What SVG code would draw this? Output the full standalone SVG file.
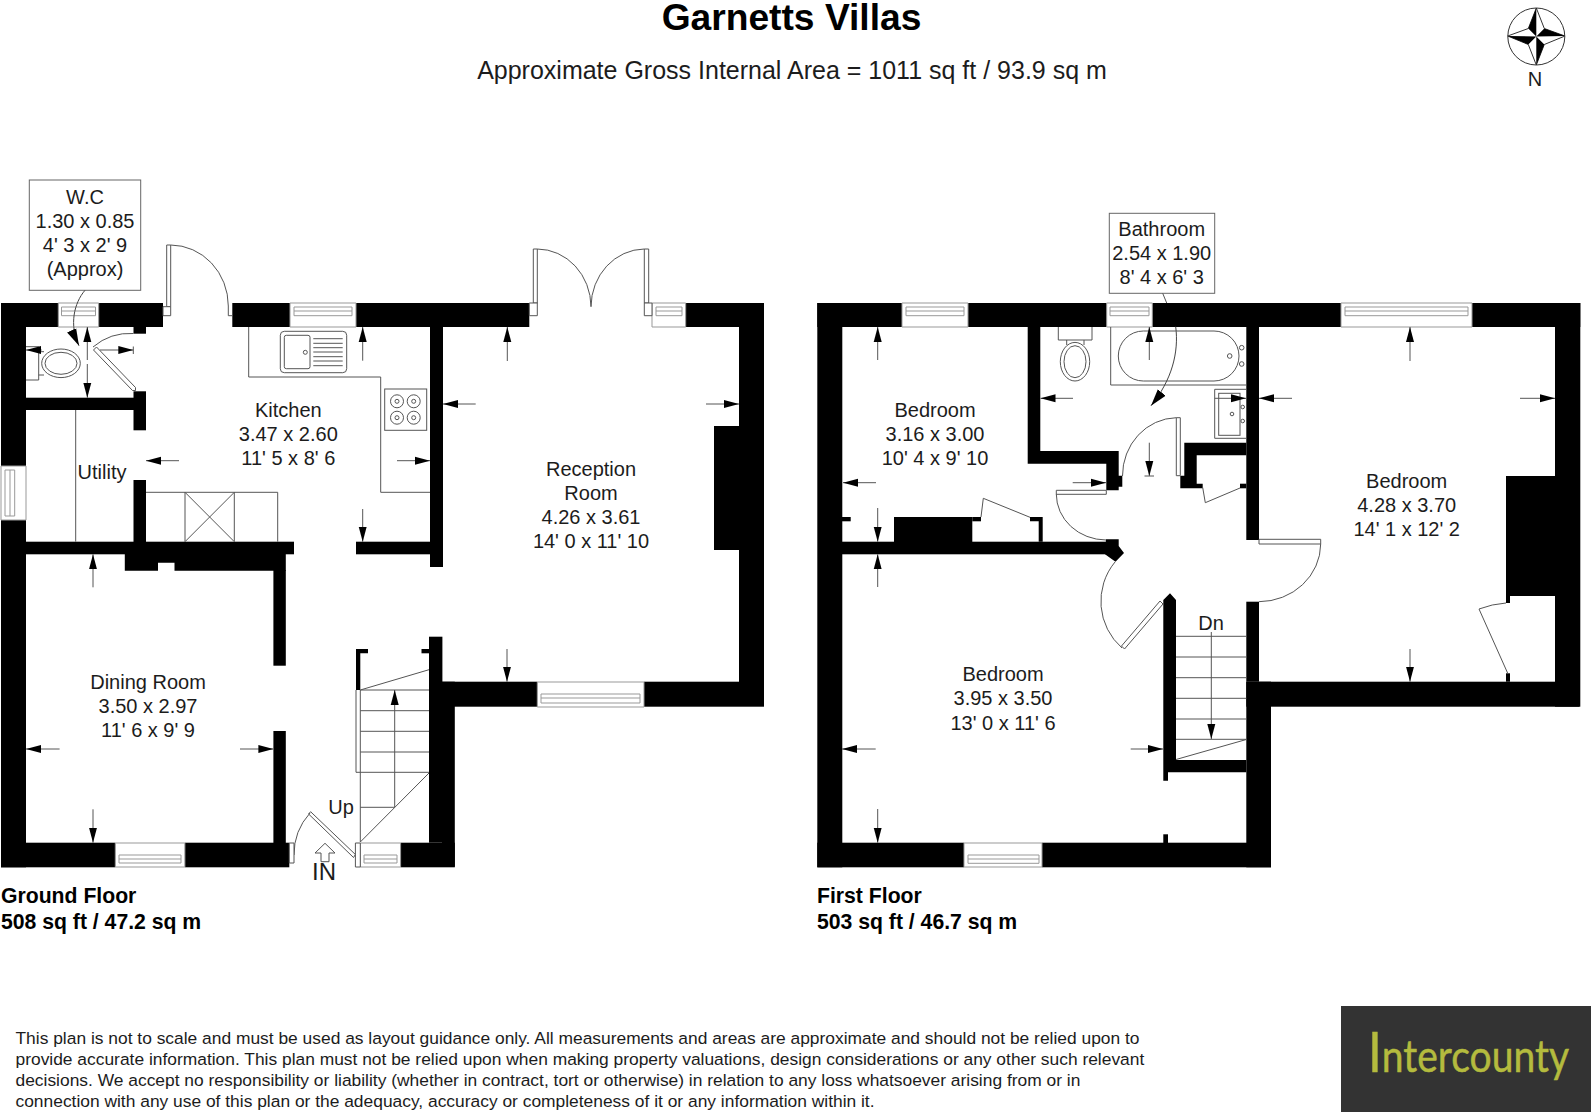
<svg xmlns="http://www.w3.org/2000/svg" width="1591" height="1120" viewBox="0 0 1591 1120">
<style>
text{font-family:"Liberation Sans",Arial,sans-serif;font-size:20px;fill:#1c1c1c;text-anchor:middle}
.b{font-weight:bold;fill:#000;text-anchor:start;font-size:21.2px}
.s{text-anchor:start;font-size:17.4px}
.w{fill:#000;stroke:none}
.t{fill:none;stroke:#555;stroke-width:1}
.lt{fill:none;stroke:#999;stroke-width:1}
.d{fill:#fff;stroke:#555;stroke-width:1}
.a{fill:none;stroke:#555;stroke-width:1;marker-end:url(#ah)}
.l{fill:none;stroke:#444;stroke-width:1;marker-end:url(#lh)}
.box{fill:#fff;stroke:#666;stroke-width:1}
</style>
<defs>
<marker id="ah" markerUnits="userSpaceOnUse" markerWidth="16" markerHeight="10" refX="15" refY="5" orient="auto"><path d="M0,1 L15,5 L0,9 Z" fill="#000"/></marker>
<marker id="lh" markerUnits="userSpaceOnUse" markerWidth="18" markerHeight="12" refX="17" refY="6" orient="auto"><path d="M0,1 L17,6 L0,11 Z" fill="#000"/></marker>
</defs>
<rect width="1591" height="1120" fill="#fff"/>

<g id="title">
<text x="791.5" y="30" style="font-weight:bold;font-size:37.2px;fill:#000">Garnetts Villas</text>
<text x="792" y="79" style="font-size:25px">Approximate Gross Internal Area = 1011 sq ft / 93.9 sq m</text>
</g>

<g id="compass">
<circle cx="1536.3" cy="36.5" r="28.5" fill="#fff" stroke="#333"/>
<path d="M1536.3 8L1544.3 28.5L1565 36L1544.3 44.5L1536.3 65L1528.3 44.5L1507.7 36L1528.3 28.5Z" fill="#fff" stroke="#333"/>
<path d="M1536.3 8L1528.3 28.5L1536.3 36.5ZM1565 36L1544.3 28.5L1536.3 36.5ZM1536.3 65L1544.3 44.5L1536.3 36.5ZM1507.7 36L1528.3 44.5L1536.3 36.5Z" fill="#000"/>
<text x="1535" y="86">N</text>
</g>

<g id="ground-floor">
<g id="ground-walls" class="w">
<rect x="1" y="303" width="57.3" height="24"/>
<rect x="98.7" y="303" width="64.3" height="24"/>
<rect x="232.3" y="303" width="57.7" height="24"/>
<rect x="356" y="303" width="173.3" height="24"/>
<rect x="685.7" y="303" width="78.3" height="24"/>
<rect x="739" y="303" width="25" height="403.7"/>
<rect x="714" y="426" width="26" height="124"/>
<rect x="430" y="327" width="13" height="240"/>
<rect x="1" y="303" width="25" height="163"/>
<rect x="1" y="520" width="25" height="347.3"/>
<rect x="1" y="842.7" width="114.3" height="24.6"/>
<rect x="184.9" y="842.7" width="104.4" height="24.6"/>
<rect x="400.6" y="842.7" width="54.2" height="24.6"/>
<rect x="429" y="636.7" width="13.4" height="206"/>
<rect x="442" y="681.7" width="12.8" height="185"/>
<rect x="442" y="681.7" width="95.3" height="25"/>
<rect x="644" y="681.7" width="95" height="25"/>
<rect x="26" y="397.7" width="108" height="12.3"/>
<rect x="133.5" y="327" width="12.5" height="6.7"/>
<rect x="133.5" y="391.3" width="12.5" height="39"/>
<rect x="133.5" y="480" width="12.5" height="62"/>
<rect x="26" y="541.7" width="268" height="12.6"/>
<path d="M124.8 554H285.8V570.7H174.5V562.7H158V570.7H124.8Z"/>
<rect x="273.4" y="570" width="12.4" height="95.7"/>
<rect x="273.4" y="731" width="12.4" height="112"/>
<rect x="356" y="541.7" width="74" height="12.6"/>
<path d="M356 649H368V653.3H360.3V690H356Z"/>
<rect x="421.5" y="649" width="8" height="4.3"/>
</g>
<g id="ground-windows" class="lt">
<path d="M58.3 303H98.7V327H58.3ZM61.5 307H95.5V315.7H61.5ZM61.5 311H95.5"/>
<path d="M290 303H356V327H290ZM294 307H352V315.7H294ZM294 311H352"/>
<path d="M652 303H685.7V327H652ZM656 307H682V315.7H656ZM656 311H682"/>
<path d="M1 466H26V520H1ZM5 470H14.7V516H5ZM10 470V516"/>
<path d="M115.3 843H184.9V867H115.3ZM119 855H181V863H119ZM119 859H181"/>
<path d="M360.3 843H400.6V867H360.3ZM364 855H397V863H364ZM364 859H397"/>
<path d="M537.3 682H644V707H537.3ZM541 694H640V703H541ZM541 698H640"/>
</g>
<g id="ground-doors">
<path class="d" d="M166.7 245H170.7V306.7H166.7Z"/>
<path class="d" d="M163 306.7H170.7V315.7H163Z"/>
<path class="t" d="M170.7 245A58 61 0 0 1 228.3 306V315.7H232.3"/>
<path class="d" d="M533.3 249H537.3V303H533.3Z"/>
<path class="d" d="M529.3 303H537.3V315.7H529.3Z"/>
<path class="d" d="M644.3 249H648.7V303H644.3Z"/>
<path class="d" d="M644.3 303H652V315.7H644.3Z"/>
<path class="t" d="M537.3 249A54 58 0 0 1 591 306.7A54 58 0 0 1 644.3 249"/>
<path class="d" d="M93.5 350L96.5 347L135.5 387.5L135.5 390.5H132.5Z"/>
<path class="t" d="M93 347A57 57 0 0 1 133.5 333.5"/>
<path class="d" d="M310.6 811.7L355.4 854.5L353.5 857.5L308.6 814Z"/>
<path class="t" d="M310 813A62 62 0 0 0 294 855"/>
<path class="d" d="M289.3 843H294V863H289.3Z"/>
<path class="d" d="M355.4 843H360.3V867H355.4Z"/>
<path class="d" d="M325 843.3L335 853H329V861.7H321V853H315Z"/>
</g>
<g id="ground-stairs" class="t">
<path d="M360.3 690H429M360.3 710.7H429M360.3 731.3H429M360.3 752H429M356 772.3H429M360.3 690V842M356 690V772.3M360.3 807.3H394.7M360.3 842L429 773M360.3 690L429 669.7"/>
</g>
<g id="ground-fittings" class="t">
<path d="M75.7 410V541.7"/>
<path d="M248.7 327V377H380.7V492.3H430"/>
<path d="M146 492.3H277.7V541.7M185 492.3V541.7M234.3 492.3V541.7M185 492.3L234.3 541.7M234.3 492.3L185 541.7"/>
<rect x="280.3" y="331.3" width="66.4" height="41.4" rx="4"/>
<rect x="284.3" y="335.3" width="25.7" height="33.4" rx="2"/>
<circle cx="305.3" cy="352.3" r="2"/>
<path d="M313.3 338.7H342.7M313.3 343.3H342.7M313.3 347.7H342.7M313.3 352H342.7M313.3 356.7H342.7M313.3 361H342.7M313.3 365.7H342.7"/>
<rect x="384.7" y="389" width="42" height="41.3"/>
<circle cx="397" cy="401.3" r="6.5"/><circle cx="397" cy="401.3" r="2"/>
<circle cx="413.7" cy="401.3" r="6.5"/><circle cx="413.7" cy="401.3" r="2"/>
<circle cx="397" cy="417.7" r="6.5"/><circle cx="397" cy="417.7" r="2"/>
<circle cx="413.7" cy="417.7" r="6.5"/><circle cx="413.7" cy="417.7" r="2"/>
<path d="M26 346.7H38.7V380H26M38.7 351.7H44M38.7 375H44"/>
<ellipse cx="61" cy="363.3" rx="19.3" ry="14.3"/>
<ellipse cx="61" cy="363.3" rx="16" ry="11"/>
</g>
<g id="ground-arrows">
<path class="a" d="M41.7 350H26"/>
<path class="a" d="M100 350H133.3"/><path class="t" d="M133.3 346.5V354"/>
<path class="a" d="M87.3 360V327"/><path class="a" d="M87.3 364V397.7"/>
<path class="a" d="M362.7 360.7V327"/>
<path class="a" d="M179 460.7H146"/>
<path class="a" d="M397 460.7H430"/>
<path class="a" d="M362.7 509V541.7"/>
<path class="a" d="M475.7 404H443"/>
<path class="a" d="M706 404H739"/>
<path class="a" d="M507.3 361V327"/>
<path class="a" d="M507 649V681.7"/>
<path class="a" d="M93 587.3V554.3"/>
<path class="a" d="M59.6 749H26"/>
<path class="a" d="M240 749H273.4"/>
<path class="a" d="M93 809.3V842.7"/>
<path class="a" d="M394.7 807V690"/>
</g>
<g id="wc-label">
<rect class="box" x="29.3" y="180" width="111.4" height="110.3"/>
<text x="85" y="204">W.C</text>
<text x="85" y="228">1.30 x 0.85</text>
<text x="85" y="252">4' 3 x 2' 9</text>
<text x="85" y="276">(Approx)</text>
<path class="l" d="M85 290.3C74 303 69 325 79 345.7"/>
</g>
<g id="ground-labels">
<text x="288.3" y="417">Kitchen</text><text x="288.3" y="441">3.47 x 2.60</text><text x="288.3" y="465">11' 5 x 8' 6</text>
<text x="102" y="479">Utility</text>
<text x="591" y="476">Reception</text><text x="591" y="500">Room</text><text x="591" y="524">4.26 x 3.61</text><text x="591" y="548">14' 0 x 11' 10</text>
<text x="148" y="689">Dining Room</text><text x="148" y="713">3.50 x 2.97</text><text x="148" y="737">11' 6 x 9' 9</text>
<text x="341" y="814">Up</text>
<text x="324" y="880" style="font-size:24px">IN</text>
<text class="b" x="1" y="903">Ground Floor</text>
<text class="b" x="1" y="929">508 sq ft / 47.2 sq m</text>
</g>
</g>

<g id="first-floor">
<g id="first-walls" class="w">
<rect x="817.3" y="303" width="84.7" height="24"/>
<rect x="968" y="303" width="138.7" height="24"/>
<rect x="1152.3" y="303" width="188.7" height="24"/>
<rect x="1472" y="303" width="108.3" height="24"/>
<rect x="817.3" y="303" width="25" height="564.3"/>
<rect x="1555" y="303" width="25.3" height="403.7"/>
<rect x="1506" y="476" width="49" height="120"/>
<rect x="1506" y="595.7" width="4" height="7.3"/>
<rect x="1506" y="673.3" width="4" height="8.4"/>
<rect x="1246.3" y="327" width="12.7" height="213"/>
<rect x="1246.3" y="601.7" width="12.7" height="80"/>
<rect x="1246.3" y="681.7" width="333" height="25"/>
<rect x="1246.3" y="681.7" width="24.7" height="185.6"/>
<rect x="817.3" y="842.7" width="146.7" height="24.6"/>
<rect x="1042" y="842.7" width="229" height="24.6"/>
<path d="M1163.3 600L1170 593.3L1176 600V760H1246.3V772.3H1168V780.7H1163.3Z"/>
<rect x="1163.3" y="834.3" width="4.7" height="8.7"/>
<rect x="842" y="541.7" width="264.7" height="12.6"/>
<path d="M1106 539.3H1118.7V546L1124 553L1115.5 561.7L1105 554.3Z"/>
<rect x="894" y="517" width="78.3" height="25"/>
<rect x="972.3" y="517" width="8.7" height="4.3"/>
<rect x="842" y="517" width="8.7" height="4.3"/>
<path d="M1030 517H1042.7V541.7H1038.7V521.3H1030Z"/>
<path d="M1027.7 327H1040.3V451H1118.7V475.7H1122.3V486.7H1118.7V490.3H1106.3V463.7H1027.7Z"/>
<path d="M1184.3 442.7H1246.3V455.3H1196.7V483.7H1202.7V488.3H1180.3V475.7H1184.3Z"/>
<rect x="1240" y="483.7" width="6.3" height="4.6"/>
</g>
<g id="first-windows" class="lt">
<path d="M902 303H968V327H902ZM906 307H964V315.7H906ZM906 311H964"/>
<path d="M1106.7 303H1152.3V327H1106.7ZM1110 307H1149V315.7H1110ZM1110 311H1149"/>
<path d="M1341 303H1472V327H1341ZM1345 307H1468V315.7H1345ZM1345 311H1468"/>
<path d="M964 843H1042V867H964ZM968 855H1039V863.3H968ZM968 859H1039"/>
</g>
<g id="first-doors">
<path class="d" d="M1176.3 417.7H1180.3V475.7H1176.3Z"/>
<path class="t" d="M1176.3 417.7A55 58 0 0 0 1122.5 476"/>
<path class="d" d="M1056.3 490.3H1106.3V494.3H1056.3Z"/>
<path class="t" d="M1056.3 494A50 46 0 0 0 1106 540"/>
<path class="d" d="M1259 539.3H1320.7V544H1259Z"/>
<path class="t" d="M1320.7 544A62 58 0 0 1 1259 601.7"/>
<path class="d" d="M1160 601L1163 604L1124.5 649L1121.5 646Z"/>
<path class="t" d="M1115 562A62 62 0 0 0 1122 648"/>
<path class="t" d="M1030 517.3L983.3 498.3L981 517"/>
<path class="t" d="M1202.7 487.5L1205.3 502.7L1240 488"/>
<path class="t" d="M1507.6 673L1479 609Q1492 604 1506 603"/>
</g>
<g id="first-stairs" class="t">
<path d="M1176 636.3H1246.3M1176 657H1246.3M1176 677.7H1246.3M1176 698.3H1246.3M1176 719H1246.3M1176 739.3H1246.3M1176 759.5L1246.3 739.5"/>
</g>
<g id="first-fittings" class="t">
<path d="M1058.3 327V340H1092V327M1066.7 340V345M1084 340V345"/>
<ellipse cx="1075" cy="361.7" rx="14.7" ry="19.3"/>
<ellipse cx="1075" cy="361.7" rx="11" ry="16"/>
<path d="M1110.7 327V385H1246.3"/>
<rect x="1118.3" y="331" width="120.7" height="50" rx="25" ry="25"/>
<circle cx="1241.7" cy="347.7" r="2.3"/><circle cx="1241.7" cy="364" r="2.3"/><circle cx="1229.7" cy="356" r="2.3"/>
<path d="M1246.3 389.3H1214.7V438.3H1246.3"/>
<rect x="1218.7" y="393.3" width="21.3" height="42"/>
<circle cx="1242.7" cy="407" r="1.8"/><circle cx="1242.7" cy="421" r="1.8"/><circle cx="1232" cy="414" r="1.8"/>
</g>
<g id="first-arrows">
<path class="a" d="M876 482.7H843"/>
<path class="a" d="M1072.7 482.7H1106"/>
<path class="a" d="M877.7 360V327"/>
<path class="a" d="M877.7 508V541.7"/>
<path class="a" d="M877.7 587V554.3"/>
<path class="a" d="M875.7 749H842"/>
<path class="a" d="M1130.7 749H1163"/>
<path class="a" d="M877.7 809V842.7"/>
<path class="a" d="M1073 398.3H1040.5"/>
<path class="a" d="M1214.7 398.3H1246"/>
<path class="a" d="M1149.3 360V327"/>
<path class="a" d="M1149.3 442.7V476"/><path class="t" d="M1144.5 476H1154"/>
<path class="a" d="M1292 398.3H1259"/>
<path class="a" d="M1520 398.3H1555"/>
<path class="a" d="M1410 361V327"/>
<path class="a" d="M1410 649V681.7"/>
<path class="a" d="M1211.3 632V739"/>
</g>
<g id="bathroom-label">
<rect class="box" x="1109.3" y="213.3" width="105.4" height="80"/>
<text x="1161.7" y="236">Bathroom</text>
<text x="1161.7" y="260">2.54 x 1.90</text>
<text x="1161.7" y="284">8' 4 x 6' 3</text>
<path class="t" d="M1162.7 293.3L1166.7 303"/>
<path class="l" d="M1175.7 326.7C1179 352 1172 380 1151 405.7"/>
</g>
<g id="first-labels">
<text x="935" y="417">Bedroom</text><text x="935" y="441">3.16 x 3.00</text><text x="935" y="465">10' 4 x 9' 10</text>
<text x="1406.7" y="488">Bedroom</text><text x="1406.7" y="512">4.28 x 3.70</text><text x="1406.7" y="536">14' 1 x 12' 2</text>
<text x="1003" y="681">Bedroom</text><text x="1003" y="705">3.95 x 3.50</text><text x="1003" y="729.5">13' 0 x 11' 6</text>
<text x="1211" y="630">Dn</text>
<text class="b" x="817" y="903">First Floor</text>
<text class="b" x="817" y="929">503 sq ft / 46.7 sq m</text>
</g>
</g>

<g id="disclaimer">
<text class="s" x="15.5" y="1044">This plan is not to scale and must be used as layout guidance only. All measurements and areas are approximate and should not be relied upon to</text>
<text class="s" x="15.5" y="1065">provide accurate information. This plan must not be relied upon when making property valuations, design considerations or any other such relevant</text>
<text class="s" x="15.5" y="1086">decisions. We accept no responsibility or liability (whether in contract, tort or otherwise) in relation to any loss whatsoever arising from or in</text>
<text class="s" x="15.5" y="1107">connection with any use of this plan or the adequacy, accuracy or completeness of it or any information within it.</text>
</g>

<g id="logo">
<rect x="1341" y="1006" width="250" height="106" fill="#333"/>
<text x="1368" y="1071.7" textLength="201" lengthAdjust="spacingAndGlyphs" style="text-anchor:start;font-family:Lato,'Open Sans',sans-serif;font-size:45px;fill:#b4bb3e;stroke:#b4bb3e;stroke-width:.5"><tspan style="font-size:57px">I</tspan>ntercounty</text>
</g>
</svg>
